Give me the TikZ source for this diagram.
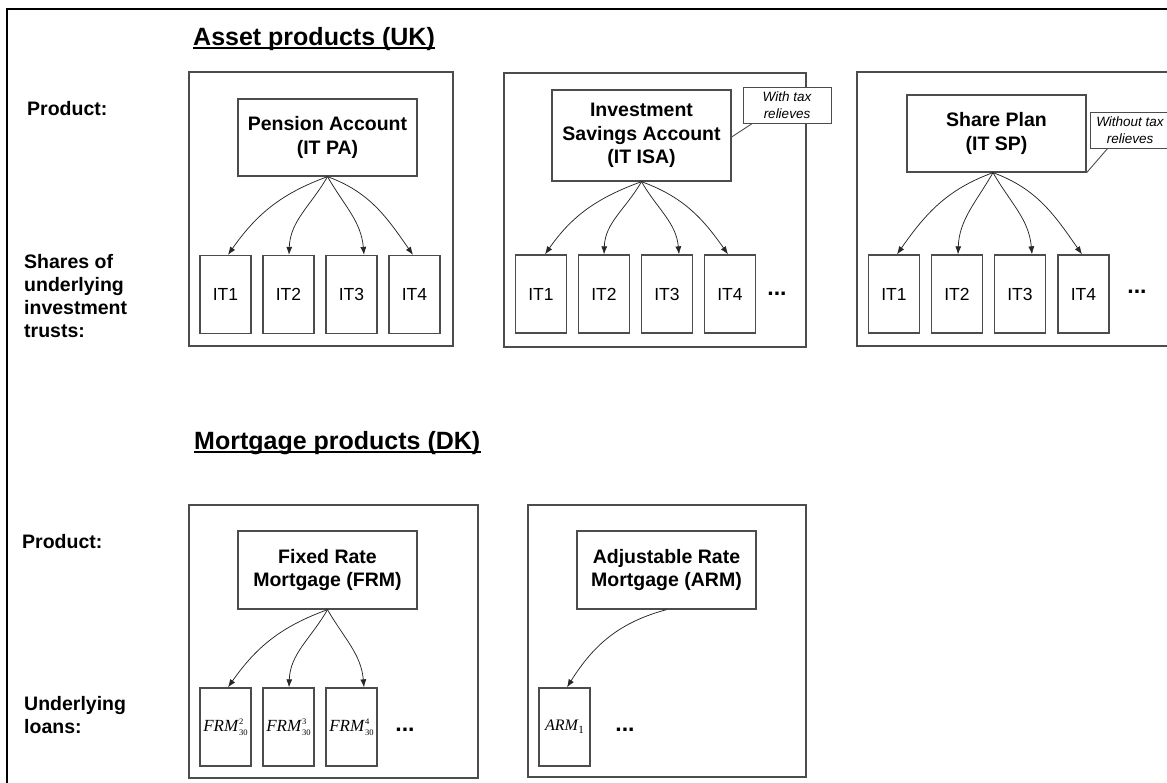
\documentclass[tikz,border=0pt]{standalone}
\usepackage{fontspec}
\setmainfont{Liberation Sans}
\newfontfamily\loanfont{Liberation Serif}
\usetikzlibrary{arrows.meta,calc}

\definecolor{boxgray}{gray}{0.3}
\definecolor{linkgray}{gray}{0.15}

% loan label: italic name with stacked super- and subscript
\newcommand{\loanlabel}[3]{{\loanfont\itshape #1}\kern1pt\makebox[0pt][l]{\raisebox{7pt}{\loanfont\fontsize{8.5}{8.5}\selectfont #2}}\raisebox{-4pt}{\loanfont\fontsize{8.5}{8.5}\selectfont #3}}
\newcommand{\armlabel}[2]{{\loanfont\itshape #1}\kern0.5pt\raisebox{-3pt}{\loanfont\fontsize{11}{11}\selectfont #2}}

\tikzset{
  frameline/.style={draw=black, line width=2.8pt},
  sectiontitle/.style={inner sep=0pt, font=\fontsize{25}{30}\selectfont\bfseries},
  uline/.style={draw=black, line width=2.2pt},
  rowlabel/.style={inner sep=0pt, align=left, font=\fontsize{19.5}{23}\selectfont\bfseries},
  outerbox/.style={draw=boxgray, line width=1.3pt, inner sep=0pt},
  prodbox/.style={draw=boxgray, line width=1.3pt, fill=white, inner sep=0pt, align=center,
    minimum width=179pt, minimum height=78pt, font=\fontsize{19.5}{23.5}\selectfont\bfseries},
  childbox/.style={draw=boxgray, line width=1.3pt, fill=white, inner sep=0pt,
    minimum width=51pt, minimum height=78pt, font=\fontsize{17.5}{20}\selectfont},
  loanbox/.style={childbox, font=\fontsize{17}{20}\selectfont},
  notebox/.style={draw=boxgray, line width=1pt, fill=white, inner sep=0pt, align=center,
    minimum height=36pt, font=\fontsize{13.5}{17}\selectfont\itshape},
  callout/.style={draw=boxgray, line width=0.9pt},
  dots/.style={inner sep=0pt, font=\fontsize{23}{24}\selectfont\bfseries},
  link/.style={draw=linkgray, line width=0.75pt, -{Latex[length=8pt,width=6pt]}}
}

\begin{document}
\begin{tikzpicture}[x=1pt,y=1pt]
\useasboundingbox (0,0) rectangle (1167,-782);
\clip (0,0) rectangle (1167,-782);

% page frame
\draw[frameline] (7,-9) rectangle (1210,-830);

% ---------- asset products ----------
\node[sectiontitle, anchor=base west] (tuk) at (193,-45) {Asset products (UK)};
\draw[uline] ($(tuk.base west)+(0,-3.3)$) -- ($(tuk.base east)+(0,-3.3)$);

\node[rowlabel, anchor=base west] (prodA) at (27,-115) {Product:};
\node[rowlabel, anchor=north west] (sharesA) at (24,-254) {Shares of\\underlying\\investment\\trusts:};

% group frames
\node[outerbox, minimum width=264pt, minimum height=274pt] (gpa) at (321,-209) {};
\node[outerbox, minimum width=302pt, minimum height=274pt] (gisa) at (655,-210) {};
\node[outerbox, minimum width=340pt, minimum height=274pt] (gsp) at (1027,-209) {};

% products
\node[prodbox, minimum height=77pt] (pa) at (327.5,-137.5) {Pension Account\\(IT PA)};
\node[prodbox, minimum height=91pt] (isa) at (641.5,-135.5) {Investment\\Savings Account\\(IT ISA)};
\node[prodbox, minimum height=77pt] (sp) at (996.5,-133.5) {Share Plan\\(IT SP)};

% underlying trusts
\foreach \i/\x in {1/225.5,2/288.5,3/351.5,4/414.5}
  \node[childbox] (pa\i) at (\x,-294.5) {IT\i};
\foreach \i/\x in {1/541,2/604,3/667,4/730}
  \node[childbox] (isa\i) at (\x,-294) {IT\i};
\foreach \i/\x in {1/894,2/957,3/1020,4/1083.5}
  \node[childbox] (sp\i) at (\x,-294) {IT\i};

\node[dots] (isadots) at (777,-294) {...};
\node[dots] (spdots) at (1137,-292) {...};

% notes
\draw[callout] ($(isa.east)+(0,-1.5)$) -- (753,-123) coordinate (isacall);
\node[notebox, minimum width=88pt] (isanote) at (787,-105) {With tax\\relieves};
\draw[callout] (sp.south east) -- (1108,-148) coordinate (spcall);
\node[notebox, minimum width=80pt] (spnote) at (1130,-130) {Without tax\\relieves};

% links
\draw[link] (pa.south) to[out=200,in=55] ($(pa1.north)+(2.5,0)$);
\draw[link] (pa.south) to[out=240,in=88] ($(pa2.north)+(0.5,0)$);
\draw[link] (pa.south) to[out=-60,in=95] ($(pa3.north)+(12.5,0)$);
\draw[link] (pa.south) to[out=-20,in=125] ($(pa4.north)+(-1.5,0)$);

\draw[link] (isa.south) to[out=200,in=55] ($(isa1.north)+(4,0)$);
\draw[link] (isa.south) to[out=240,in=88] (isa2.north);
\draw[link] (isa.south) to[out=-60,in=95] ($(isa3.north)+(12,0)$);
\draw[link] (isa.south) to[out=-20,in=125] ($(isa4.north)+(-2,0)$);

\draw[link] ($(sp.south)+(-3.5,0)$) to[out=200,in=55] ($(sp1.north)+(3,0)$);
\draw[link] ($(sp.south)+(-3.5,0)$) to[out=240,in=88] ($(sp2.north)+(1,0)$);
\draw[link] ($(sp.south)+(-3.5,0)$) to[out=-60,in=95] ($(sp3.north)+(12,0)$);
\draw[link] ($(sp.south)+(-3.5,0)$) to[out=-20,in=125] ($(sp4.north)+(-1.5,0)$);

% ---------- mortgage products ----------
\node[sectiontitle, anchor=base west] (tdk) at (194,-449) {Mortgage products (DK)};
\draw[uline] ($(tdk.base west)+(0,-3.3)$) -- ($(tdk.base east)+(0,-3.3)$);

\node[rowlabel, anchor=base west] (prodB) at (22,-548) {Product:};
\node[rowlabel, anchor=north west] (loansB) at (24,-696) {Underlying\\loans:};

\node[outerbox, minimum width=289pt, minimum height=273pt] (gfrm) at (333.5,-641.5) {};
\node[outerbox, minimum width=278pt, minimum height=272pt] (garm) at (667,-641) {};

\node[prodbox] (frm) at (327.5,-570) {Fixed Rate\\Mortgage (FRM)};
\node[prodbox] (arm) at (666.5,-570) {Adjustable Rate\\Mortgage (ARM)};

\node[loanbox] (frm1) at (225.5,-727) {\loanlabel{FRM}{2}{30}};
\node[loanbox] (frm2) at (288.5,-727) {\loanlabel{FRM}{3}{30}};
\node[loanbox] (frm3) at (351.5,-727) {\loanlabel{FRM}{4}{30}};
\node[loanbox, font=\fontsize{16}{20}\selectfont] (arm1) at (564.5,-727) {\armlabel{ARM}{1}};

\node[dots] (frmdots) at (405,-730) {...};
\node[dots] (armdots) at (625,-730) {...};

\draw[link] (frm.south) to[out=200,in=55] ($(frm1.north)+(2.5,0)$);
\draw[link] (frm.south) to[out=240,in=88] ($(frm2.north)+(0.5,0)$);
\draw[link] (frm.south) to[out=-60,in=95] ($(frm3.north)+(12.5,0)$);
\draw[link] (arm.south) to[out=195,in=58] ($(arm1.north)+(2.5,0)$);

\end{tikzpicture}
\end{document}
